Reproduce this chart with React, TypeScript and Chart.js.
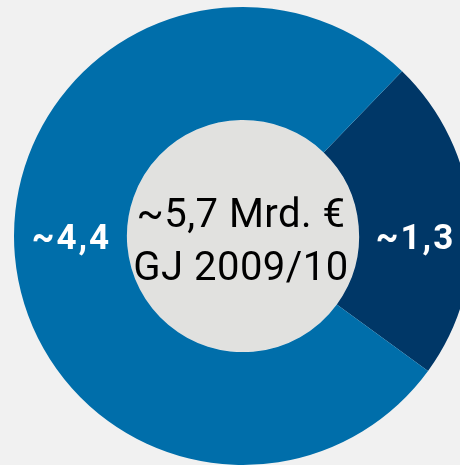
import React, { useEffect, useRef } from "react";
import { Chart, registerables } from "chart.js";

Chart.register(...registerables);

const categories = ["~1,3", "~4,4"];
const values = [1.3, 4.4];
const colors = ["#003767", "#006eaa"];
const centerLines = ["~5,7 Mrd. €", "GJ 2009/10"];

const centerPlugin = {
  id: "centerText",
  beforeDatasetsDraw(chart: any) {
    const meta = chart.getDatasetMeta(0);
    const arc = meta.data[0];
    if (!arc) return;
    const { x, y, innerRadius } = arc;
    const ctx = chart.ctx;
    ctx.save();
    ctx.beginPath();
    ctx.arc(x, y, innerRadius, 0, Math.PI * 2);
    ctx.fillStyle = "#e1e1df";
    ctx.fill();
    ctx.restore();
  },
  afterDatasetsDraw(chart: any) {
    const meta = chart.getDatasetMeta(0);
    const arc = meta.data[0];
    if (!arc) return;
    const { x, y, innerRadius, outerRadius } = arc;
    const ctx = chart.ctx;
    ctx.save();
    ctx.textAlign = "center";
    ctx.textBaseline = "alphabetic";
    ctx.fillStyle = "#000000";
    ctx.font = "400 40px Roboto";
    try { (ctx as any).letterSpacing = "0.5px"; } catch (e) {}
    ctx.fillText(centerLines[0], x - 2, y - 9);
    ctx.fillText(centerLines[1], x - 2, y + 44);
    const mid = (innerRadius + outerRadius) / 2;
    ctx.fillStyle = "#ffffff";
    ctx.font = "700 35px Roboto";
    try { (ctx as any).letterSpacing = "2px"; } catch (e) {}
    ctx.fillText(categories[1], x - mid + 1, y + 13);
    ctx.fillText(categories[0], x + mid, y + 13);
    ctx.restore();
  },
};

export default function App() {
  const ref = useRef<HTMLCanvasElement>(null);
  useEffect(() => {
    document.body.style.margin = "0";
    const chart = new Chart(ref.current!, {
      type: "doughnut",
      data: {
        labels: categories,
        datasets: [
          {
            data: values,
            backgroundColor: colors,
            borderWidth: 0,
          },
        ],
      },
      options: {
        animation: false,
        responsive: false,
        devicePixelRatio: 1,
        rotation: 44,
        cutout: "50.7%",
        layout: { padding: 7 },
        plugins: {
          legend: { display: false },
          tooltip: { enabled: false },
        },
      },
      plugins: [centerPlugin],
    });
    return () => chart.destroy();
  }, []);
  return (
    <div
      style={{
        position: "fixed",
        left: 0,
        top: 0,
        width: 460,
        height: 465,
        overflow: "hidden",
        background: "#f1f1f1",
      }}
    >
      <canvas
        ref={ref}
        width={486}
        height={472}
        style={{ position: "absolute", left: 0, top: 0, width: 486, height: 472 }}
      />
    </div>
  );
}
